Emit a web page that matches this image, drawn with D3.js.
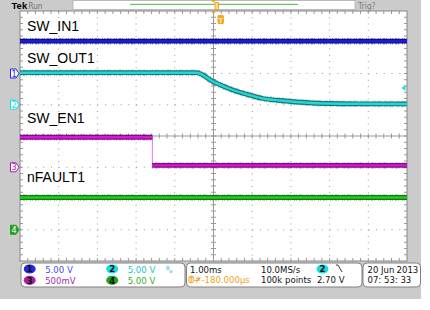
<!DOCTYPE html>
<html>
<head>
<meta charset="utf-8">
<script src="https://cdn.jsdelivr.net/npm/d3@7"></script>
<style>
  body { margin: 0; background: #fff; }
  svg { display: block; }
</style>
</head>
<body>
<div id="chart"></div>
<script>
// time in ms relative to trigger, volts per channel
const timeDomain = [-5.18, 4.82];
const channelNames = ["SW_IN1", "SW_OUT1", "SW_EN1", "nFAULT1"];
const voltsPerDiv = [5, 5, 0.5, 5];
const groundDiv = [2, 1, -1, -3];
const scaleLabels = ["5.00 V", "5.00 V", "500mV", "5.00 V"];

const swIn1 = [[-5.18, 5.17], [4.82, 5.17]];
const swOut1 = [
  [-5.18, 5.13], [-0.62, 5.13], [-0.19, 3.69], [0.25, 2.52], [0.68, 1.67],
  [1.10, 1.0], [1.54, 0.68], [1.97, 0.44], [2.39, 0.28], [2.83, 0.2],
  [3.6, 0.15], [4.82, 0.13]
];
const swEn1 = [[-5.18, 0.48], [-1.76, 0.48], [-1.76, 0.03], [4.82, 0.03]];
const nFault1 = [[-5.18, 5.16], [4.82, 5.16]];

const timebase = "1.00ms";
const hPosition = "-180.000\u00b5s";
const sampleRate = "10.0MS/s";
const recordLength = "100k points";
const trigLevel = "2.70 V";
const dateText = ["20 Jun", "2013", "07: 53: 33"];

const colors = {
  1: { line: "#1c1cd8", edge: "#0c0c80", text: "#4a4af0", badge: "#2626e6" },
  2: { line: "#2ad4d4", edge: "#0e7c7c", text: "#22c4cc", badge: "#12dce4" },
  3: { line: "#d418d4", edge: "#7a107a", text: "#a030a8", badge: "#a820a8" },
  4: { line: "#22cc22", edge: "#127812", text: "#30b030", badge: "#20a020" }
};

const W = 430, H = 310;
const gx0 = 20, gx1 = 407, gy0 = 11, gy1 = 261;

const svg = d3.select("#chart").append("svg")
  .attr("width", W).attr("height", H)
  .attr("viewBox", [0, 0, W, H]);

const x = d3.scaleLinear().domain(timeDomain).range([gx0, gx1]);
const xDiv = d3.scaleLinear().domain([0, 10]).range([gx0, gx1]);
const yDiv = d3.scaleLinear().domain([-4, 4]).range([gy1, gy0]);
const yCh = ch => v => yDiv(groundDiv[ch - 1] + v / voltsPerDiv[ch - 1]);

// frame
svg.append("rect").attr("width", 421).attr("height", 299).attr("fill", "#cbcbcb");
svg.append("rect").attr("x", gx0).attr("y", gy0)
  .attr("width", gx1 - gx0).attr("height", gy1 - gy0).attr("fill", "#fff");

// top bar
svg.append("text").attr("x", 11.5).attr("y", 9)
  .attr("font-family", "Liberation Sans Narrow, Liberation Sans, Arial, sans-serif")
  .attr("font-weight", "bold").attr("font-size", 9.5).attr("fill", "#000").text("Tek");
svg.append("text").attr("x", 28.5).attr("y", 9)
  .attr("font-family", "Liberation Sans Narrow, DejaVu Sans Condensed, Arial, sans-serif")
  .attr("font-size", 8).attr("fill", "#707070").text("Run");
svg.append("rect").attr("x", 73).attr("y", 0.5).attr("width", 282).attr("height", 9)
  .attr("fill", "#fff").attr("stroke", "#b0b0b0").attr("stroke-width", 0.8);
svg.append("line").attr("x1", 130).attr("x2", 298).attr("y1", 4.3).attr("y2", 4.3)
  .attr("stroke", "#3cbc3c").attr("stroke-width", 1);
svg.append("path").attr("d", "M211,0 L216,0 L213.5,2.5 Z").attr("fill", "#f0a020");
svg.append("rect").attr("x", 215).attr("y", 2.5).attr("width", 3.5).attr("height", 7)
  .attr("fill", "#ffd890").attr("stroke", "#f09a10").attr("stroke-width", 0.8);
svg.append("text").attr("x", 358).attr("y", 9)
  .attr("font-family", "Liberation Sans Narrow, DejaVu Sans Condensed, Arial, sans-serif")
  .attr("font-size", 8.5).attr("fill", "#808080").text("Trig?");

// graticule
const grid = svg.append("g");
const dotH = (gx1 - gx0) / 50, dotV = (gy1 - gy0) / 40;
d3.range(1, 10).filter(d => d !== 5).forEach(d => {
  grid.append("line").attr("x1", xDiv(d)).attr("x2", xDiv(d)).attr("y1", gy0).attr("y2", gy1)
    .attr("stroke", "#9a9a9a").attr("stroke-width", 1)
    .attr("stroke-dasharray", `1 ${dotV - 1}`);
});
d3.range(-3, 4).filter(d => d !== 0).forEach(d => {
  grid.append("line").attr("y1", yDiv(d)).attr("y2", yDiv(d)).attr("x1", gx0).attr("x2", gx1)
    .attr("stroke", "#9a9a9a").attr("stroke-width", 1)
    .attr("stroke-dasharray", `1 ${dotH - 1}`);
});
// center lines
const xc = xDiv(5), yc = yDiv(0);
grid.append("line").attr("x1", xc).attr("x2", xc).attr("y1", gy0).attr("y2", gy1).attr("stroke", "#999");
grid.append("line").attr("x1", gx0).attr("x2", gx1).attr("y1", yc).attr("y2", yc).attr("stroke", "#999");
d3.range(1, 50).forEach(i => {
  const px = gx0 + i * dotH;
  grid.append("line").attr("x1", px).attr("x2", px).attr("y1", yc - 2.5).attr("y2", yc + 2.5).attr("stroke", "#999");
  grid.append("line").attr("x1", px).attr("x2", px).attr("y1", gy0).attr("y2", gy0 + 3).attr("stroke", "#999");
  grid.append("line").attr("x1", px).attr("x2", px).attr("y1", gy1 - 3).attr("y2", gy1).attr("stroke", "#999");
});
d3.range(1, 40).forEach(i => {
  const py = gy0 + i * dotV;
  grid.append("line").attr("y1", py).attr("y2", py).attr("x1", xc - 2.5).attr("x2", xc + 2.5).attr("stroke", "#999");
  grid.append("line").attr("y1", py).attr("y2", py).attr("x1", gx0).attr("x2", gx0 + 3).attr("stroke", "#999");
  grid.append("line").attr("y1", py).attr("y2", py).attr("x1", gx1 - 3).attr("x2", gx1).attr("stroke", "#999");
});
grid.append("rect").attr("x", gx0).attr("y", gy0).attr("width", gx1 - gx0).attr("height", gy1 - gy0)
  .attr("fill", "none").attr("stroke", "#888").attr("stroke-width", 1);

// traces
function drawTrace(data, ch, curve) {
  const c = colors[ch];
  const y = yCh(ch);
  const g = svg.append("g");
  // split into level segments and vertical jumps
  const segs = [];
  let cur = [data[0]];
  for (let i = 1; i < data.length; i++) {
    if (data[i][0] === data[i - 1][0]) {
      segs.push({ pts: cur, thick: true });
      segs.push({ pts: [data[i - 1], data[i]], thick: false });
      cur = [data[i]];
    } else cur.push(data[i]);
  }
  segs.push({ pts: cur, thick: true });
  const line = d3.line().x(d => x(d[0])).y(d => y(d[1]));
  segs.forEach(s => {
    if (!s.thick) {
      g.append("path").attr("d", line.curve(d3.curveLinear)(s.pts))
        .attr("fill", "none").attr("stroke", c.line).attr("stroke-opacity", 0.6).attr("stroke-width", 1);
      return;
    }
    const d = line.curve(curve || d3.curveLinear)(s.pts);
    g.append("path").attr("d", d).attr("fill", "none").attr("stroke", c.edge)
      .attr("stroke-width", 6.5).attr("stroke-opacity", 0.45).attr("stroke-dasharray", "1 2 2 1 1 3 1 1");
    g.append("path").attr("d", d).attr("fill", "none").attr("stroke", c.edge).attr("stroke-width", 4.8);
    g.append("path").attr("d", d).attr("fill", "none").attr("stroke", c.line).attr("stroke-width", 2.4);
  });
}
drawTrace(swIn1, 1);
drawTrace(swOut1, 2, d3.curveMonotoneX);
drawTrace(swEn1, 3);
drawTrace(nFault1, 4);

// channel names
const labelY = [31, 63, 123, 182];
channelNames.forEach((n, i) => {
  svg.append("text").attr("x", 27).attr("y", labelY[i])
    .attr("font-family", "Liberation Sans, Arial, sans-serif")
    .attr("font-size", 14).attr("fill", "#000").text(n);
});

// ground markers
const narrow = "Liberation Sans Narrow, DejaVu Sans Condensed, Arial, sans-serif";
[1, 2, 3, 4].forEach(ch => {
  const py = yCh(ch)(0);
  const c = colors[ch];
  const filled = ch === 4;
  svg.append("path").attr("d", `M10.5,${py - 4.5} L16,${py - 4.5} L19,${py} L16,${py + 4.5} L10.5,${py + 4.5} Z`)
    .attr("fill", filled ? c.badge : "#fff").attr("stroke", c.badge).attr("stroke-width", 1);
  svg.append("text").attr("x", 14).attr("y", py + 3.2).attr("text-anchor", "middle")
    .attr("font-family", narrow).attr("font-size", 9)
    .attr("fill", filled ? "#fff" : c.badge).text(ch);
});

// trigger markers
svg.append("path").attr("d", `M${xc - 2.5},${gy0 + 0.5} L${xc + 2.5},${gy0 + 0.5} L${xc},${gy0 + 3} Z`).attr("fill", "#f0a020");
const tx = x(0);
svg.append("rect").attr("x", tx - 3).attr("y", 15).attr("width", 6.5).attr("height", 9).attr("rx", 1.5)
  .attr("fill", "#f5a623");
svg.append("text").attr("x", tx + 0.2).attr("y", 22.5).attr("text-anchor", "middle")
  .attr("font-family", "Liberation Sans, Arial, sans-serif").attr("font-weight", "bold")
  .attr("font-size", 8).attr("fill", "#ffe7b0").text("T");
const tly = yCh(2)(2.70);
svg.append("path").attr("d", `M401.5,${tly} L405.5,${tly - 3} L405.5,${tly + 3} Z`).attr("fill", "#22d8e0");

// info boxes
const boxes = [[21, 185], [186.5, 362], [363, 420.5]];
boxes.forEach(([a, b]) => {
  svg.append("rect").attr("x", a).attr("y", 263).attr("width", b - a).attr("height", 24).attr("rx", 4)
    .attr("fill", "#fff").attr("stroke", "#808080").attr("stroke-width", 1);
});
const info = svg.append("g").attr("font-family", narrow).attr("font-size", 9.5);
const badgePos = { 1: [29.7, 269], 3: [29.7, 280.3], 2: [112.2, 269], 4: [112.2, 280.3] };
[1, 2, 3, 4].forEach(ch => {
  const [bx, by] = badgePos[ch];
  info.append("ellipse").attr("cx", bx).attr("cy", by).attr("rx", 6).attr("ry", 4.6).attr("fill", colors[ch].badge);
  info.append("text").attr("x", bx).attr("y", by + 3.3).attr("text-anchor", "middle")
    .attr("font-weight", "bold").attr("fill", "#111").text(ch);
  info.append("text").attr("x", bx + 15.5).attr("y", by + 3.6).attr("fill", colors[ch].text)
    .text(scaleLabels[ch - 1]);
});
info.append("text").attr("x", 166).attr("y", 270).attr("font-size", 6).attr("fill", colors[2].text).text("B");
info.append("text").attr("x", 169).attr("y", 272.5).attr("font-size", 5).attr("fill", colors[2].text).text("w");

info.append("text").attr("x", 190).attr("y", 272.8).attr("fill", "#111").text(timebase);
info.append("rect").attr("x", 189).attr("y", 276.3).attr("width", 4.2).attr("height", 6.4).attr("rx", 0.8)
  .attr("fill", "none").attr("stroke", "#f0a020").attr("stroke-width", 1);
info.append("path").attr("d", "M189.8,277.3 L192.5,277.3 M191.15,277.3 L191.15,282").attr("stroke", "#f0a020").attr("stroke-width", 1);
info.append("text").attr("x", 193.2).attr("y", 283.2).attr("fill", "#f0a020").text("+");
info.append("path").attr("d", "M196.8,277.5 L200.8,277.5 L198.8,281 Z").attr("fill", "#f0a020");
info.append("text").attr("x", 201.5).attr("y", 283.2).attr("fill", "#f0a020").text(hPosition);

info.append("text").attr("x", 261).attr("y", 272.8).attr("fill", "#111").text(sampleRate);
info.append("text").attr("x", 261).attr("y", 283.2).attr("fill", "#111").text(recordLength);
info.append("ellipse").attr("cx", 322.5).attr("cy", 269).attr("rx", 6).attr("ry", 4.6).attr("fill", colors[2].badge);
info.append("text").attr("x", 322.5).attr("y", 272.3).attr("text-anchor", "middle").attr("font-weight", "bold").attr("fill", "#111").text("2");
info.append("path").attr("d", "M336,265 L338,265 L342,272").attr("fill", "none").attr("stroke", "#222").attr("stroke-width", 0.9);
info.append("text").attr("x", 344.5).attr("y", 283.2).attr("text-anchor", "end").attr("fill", "#111").text(trigLevel);

info.append("text").attr("x", 367.5).attr("y", 272.8).attr("fill", "#111").text(dateText[0]);
info.append("text").attr("x", 418.3).attr("y", 272.8).attr("text-anchor", "end").attr("fill", "#111").text(dateText[1]);
info.append("text").attr("x", 367.5).attr("y", 283.2).attr("fill", "#111").text(dateText[2]);
</script>
</body>
</html>
